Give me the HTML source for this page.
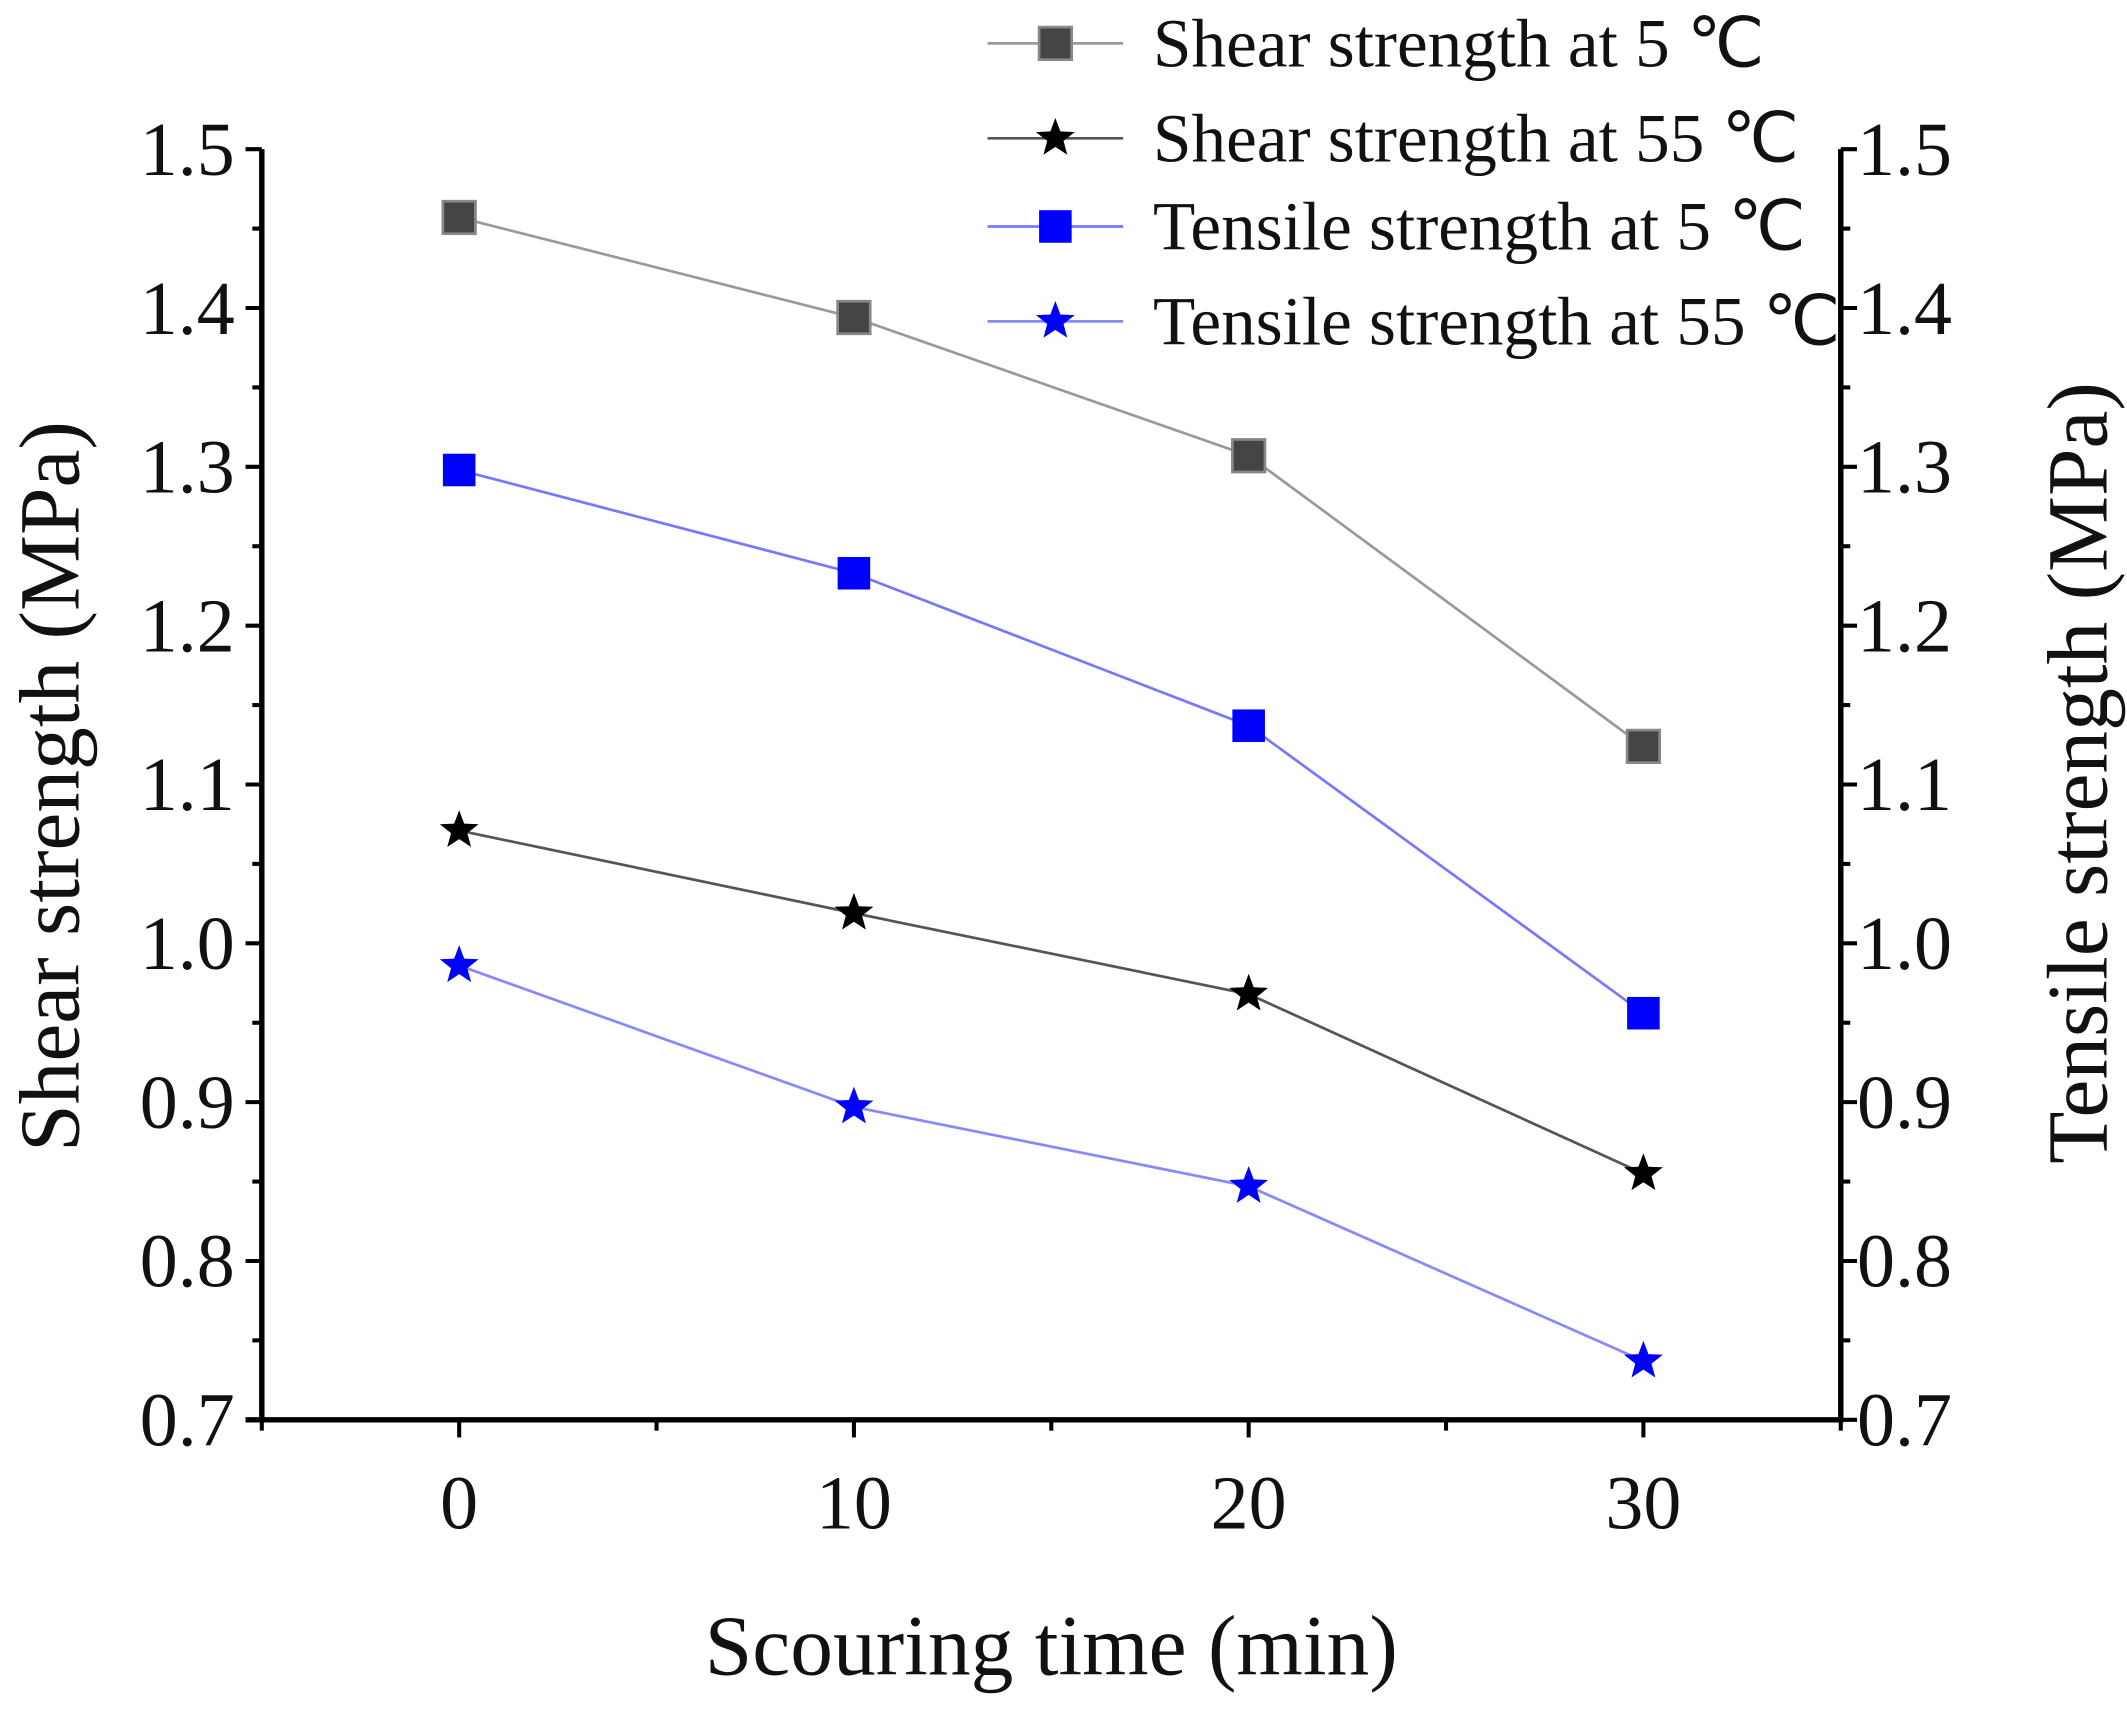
<!DOCTYPE html>
<html><head><meta charset="utf-8"><style>
html,body{margin:0;padding:0;background:#fff;}
svg{display:block;}
text{font-family:"Liberation Serif",serif;fill:#111;}
</style></head><body>
<svg id="chart" width="2127" height="1710" viewBox="0 0 1568 1261" preserveAspectRatio="none" xmlns="http://www.w3.org/2000/svg"></svg>
<script>
const xCats = [0, 10, 20, 30];
const shear5 = [1.457, 1.394, 1.307, 1.124];
const shear55 = [1.071, 1.019, 0.968, 0.855];
const tensile5 = [1.298, 1.233, 1.137, 0.956];
const tensile55 = [0.986, 0.897, 0.847, 0.737];
const yTicks = ["0.7","0.8","0.9","1.0","1.1","1.2","1.3","1.4","1.5"];
const xTickLabels = ["0","10","20","30"];

const L=193,R=1357,T=110,B=1047,X0=-5,X1=35,Y0=0.7,Y1=1.5;
const sx=v=>L+(v-X0)/(X1-X0)*(R-L);
const sy=v=>B-(v-Y0)/(Y1-Y0)*(B-T);
const svg=document.getElementById('chart');
const NS='http://www.w3.org/2000/svg';
function mk(tag,attrs,parent){const e=document.createElementNS(NS,tag);for(const k in attrs)e.setAttribute(k,attrs[k]);(parent||svg).appendChild(e);return e;}

let e=mk('line',{x1:L,y1:T,x2:L,y2:B+2,stroke:'#000','stroke-width':4});


e=mk('line',{x1:R,y1:T,x2:R,y2:B+2,stroke:'#000','stroke-width':4});


e=mk('line',{x1:L-12,y1:B,x2:R+2,y2:B,stroke:'#000','stroke-width':4});



yTicks.forEach((t,i)=>{
  const v=parseFloat(t),y=sy(v);
  mk('line',{x1:L-12,y1:y,x2:L,y2:y,stroke:'#000','stroke-width':3});
  mk('line',{x1:R,y1:y,x2:R+12,y2:y,stroke:'#000','stroke-width':3});
  if(i<yTicks.length-1){const ym=sy(v+0.05);
    mk('line',{x1:L-7,y1:ym,x2:L,y2:ym,stroke:'#000','stroke-width':3});
    mk('line',{x1:R,y1:ym,x2:R+7,y2:ym,stroke:'#000','stroke-width':3});}
  let tl=mk('text',{x:L-20,y:y+19,'text-anchor':'end','font-size':56});tl.textContent=t;
  
  
  let tr=mk('text',{x:R+12,y:y+19,'text-anchor':'start','font-size':56});tr.textContent=t;
  
  
});
xCats.forEach((c,i)=>{
  const x=sx(c);
  mk('line',{x1:x,y1:B,x2:x,y2:B+13,stroke:'#000','stroke-width':3});
  let t=mk('text',{x:x,y:1127,'text-anchor':'middle','font-size':56});t.textContent=xTickLabels[i];
  
  
});
[-5,5,15,25,35].forEach(v=>{const x=sx(v);mk('line',{x1:x,y1:B,x2:x,y2:B+8,stroke:'#000','stroke-width':3});});

e=mk('text',{x:775,y:1235,'text-anchor':'middle','font-size':63});e.textContent='Scouring time (min)';


e=mk('text',{x:0,y:0,'text-anchor':'middle','font-size':63,transform:'translate(58,580) rotate(-90)'});e.textContent='Shear strength (MPa)';


e=mk('text',{x:0,y:0,'text-anchor':'middle','font-size':63,transform:'translate(1553,570) rotate(-90)'});e.textContent='Tensile strength (MPa)';



function star(cx,cy,r){let p=[];for(let i=0;i<10;i++){const a=-Math.PI/2+i*Math.PI/5,rr=i%2?r*0.42:r;p.push((cx+rr*Math.cos(a)).toFixed(1)+','+(cy+rr*Math.sin(a)).toFixed(1));}return p.join(' ');}
function marker(g,type,x,y,color){
  if(type==='sq') return mk('rect',{x:x-12,y:y-12,width:24,height:24,fill:color,stroke:color==='#444'?'#888':'none','stroke-width':2},g);
  return mk('polygon',{points:star(x,y,15),fill:color},g);
}
const series=[
 {name:'shear-5c',data:shear5,line:'#9a9a9a',mk:'sq',col:'#444',label:'Shear strength at 5 \u2103'},
 {name:'shear-55c',data:shear55,line:'#555',mk:'st',col:'#000',label:'Shear strength at 55 \u2103'},
 {name:'tensile-5c',data:tensile5,line:'#7777ff',mk:'sq',col:'#0000ff',label:'Tensile strength at 5 \u2103'},
 {name:'tensile-55c',data:tensile55,line:'#8888ff',mk:'st',col:'#0000ff',label:'Tensile strength at 55 \u2103'}];
series.forEach(s=>{
  const g=mk('g',{});
  
  
  mk('polyline',{points:s.data.map((v,i)=>sx(xCats[i])+','+sy(v)).join(' '),fill:'none',stroke:s.line,'stroke-width':2},g);
  s.data.forEach((v,i)=>{const m=marker(g,s.mk,sx(xCats[i]),sy(v),s.col);
    
    });
});
const ly=[32,102,167,237];
series.forEach((s,i)=>{
  const g=mk('g',{});
  
  
  mk('line',{x1:728,y1:ly[i],x2:828,y2:ly[i],stroke:s.line,'stroke-width':2},g);
  marker(g,s.mk,778,ly[i],s.col);
  const t=mk('text',{x:850,y:ly[i]+17,'font-size':51},g);t.textContent=s.label;
});
</script>
</body></html>
